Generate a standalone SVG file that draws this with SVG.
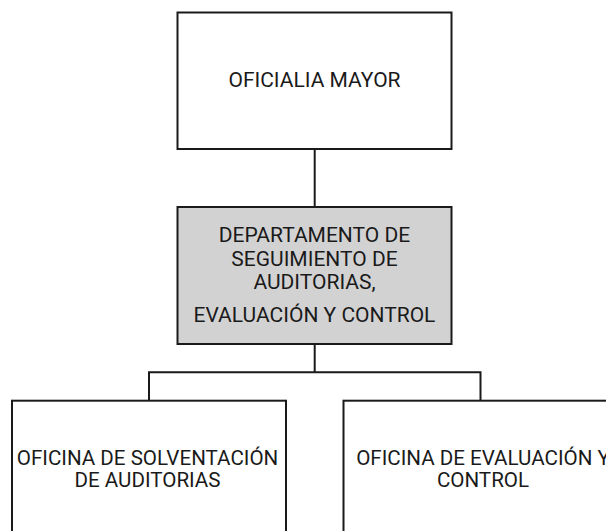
<svg xmlns="http://www.w3.org/2000/svg" width="606" height="531" viewBox="0 0 606 531">
<style>
.box{fill:#ffffff;stroke:#1a1a1a;stroke-width:2}
.gray{fill:#d3d2d3}
.lbl{font-family:Roboto,"Liberation Sans",sans-serif;font-size:21px;fill:#1a1a1a;text-anchor:middle}
.sm{font-size:20.6px}
.conn{fill:none;stroke:#1a1a1a;stroke-width:2}
</style>
<rect width="606" height="531" fill="#ffffff"/>
<g id="connectors">
<path class="conn" d="M314.7 149V207"/>
<path class="conn" d="M314.7 344V372.3"/>
<path class="conn" d="M149 400.7V372.3H480.5V400.7"/>
</g>
<g id="oficialia-mayor">
<rect class="box" x="177.5" y="12.5" width="274" height="136.5"/>
<text class="lbl" x="314.5" y="87.3">OFICIALIA MAYOR</text>
</g>
<g id="departamento">
<rect class="box gray" x="177.5" y="207" width="274" height="137"/>
<text class="lbl" x="314.5" y="242.3">DEPARTAMENTO DE</text>
<text class="lbl" x="314.5" y="265.5">SEGUIMIENTO DE</text>
<text class="lbl" x="314.5" y="288.7">AUDITORIAS,</text>
<text class="lbl" x="314.5" y="321.7">EVALUACIÓN Y CONTROL</text>
</g>
<g id="oficina-solventacion">
<rect class="box" x="12" y="400.7" width="274" height="150"/>
<text class="lbl sm" x="147.5" y="465">OFICINA DE SOLVENTACIÓN</text>
<text class="lbl sm" x="147.5" y="487.3">DE AUDITORIAS</text>
</g>
<g id="oficina-evaluacion">
<rect class="box" x="343.5" y="400.7" width="274" height="150"/>
<text class="lbl sm" x="483" y="465">OFICINA DE EVALUACIÓN Y</text>
<text class="lbl sm" x="483" y="487.3">CONTROL</text>
</g>
</svg>
